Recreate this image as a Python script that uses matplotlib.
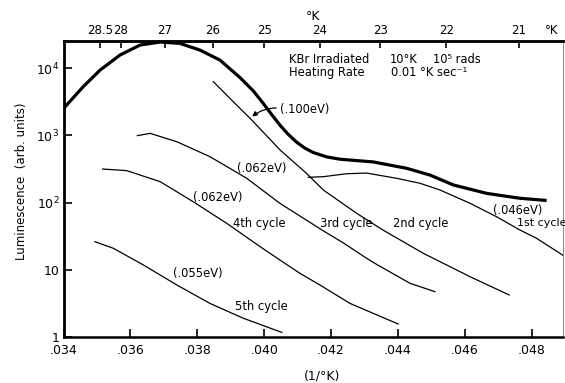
import matplotlib
matplotlib.use('Agg')
import matplotlib.pyplot as plt
from matplotlib.ticker import FixedLocator, NullLocator

plt.rcParams['font.family'] = ['DejaVu Sans']
plt.rcParams['mathtext.fontset'] = 'dejavusans'

# Curvas digitalizadas (x = 1/°K, y = luminescencia)
x_total = [0.0340, 0.03459, 0.03509, 0.03569, 0.03629, 0.03689, 0.03748, 0.03808,
           0.03868, 0.03928, 0.03968, 0.03997, 0.04024, 0.04048, 0.04071, 0.04097,
           0.04122, 0.04147, 0.04187, 0.04227, 0.04276, 0.04326, 0.04426, 0.04496,
           0.04566, 0.04666, 0.04765, 0.0484]
y_total = [2510, 5310, 9330, 15700, 22100, 24500, 23400, 18600,
           13200, 7240, 4570, 3010, 2000, 1410, 1050, 794,
           646, 556, 479, 442, 422, 403, 324, 257,
           183, 137, 116, 108]

x_c1 = [0.04132, 0.04177, 0.04247, 0.04307, 0.04396, 0.04466, 0.04526, 0.04616,
        0.04695, 0.04765, 0.04815, 0.0490]
y_c1 = [238, 243, 269, 275, 230, 194, 154, 97.7, 61.7, 39.1, 29.4, 15.7]

x_c2 = [0.03848, 0.03908, 0.03958, 0.04048, 0.04127, 0.04177, 0.04277, 0.04356,
        0.04476, 0.04616, 0.04733]
y_c2 = [6310, 3160, 1795, 605, 272, 154, 69.2, 38.9, 17.6, 7.89, 4.22]

x_c3 = [0.03621, 0.03659, 0.03739, 0.03838, 0.03948, 0.04047, 0.04177, 0.04237,
        0.04307, 0.04337, 0.04436, 0.04511]
y_c3 = [991, 1072, 805, 482, 230, 97.7, 38.0, 25.1, 14.8, 12.0, 6.31, 4.72]

x_c4 = [0.03517, 0.03589, 0.03689, 0.03788, 0.03888, 0.03988, 0.04047, 0.04107,
        0.04167, 0.04257, 0.04401]
y_c4 = [316, 299, 205, 103, 49.2, 22.1, 14.0, 8.87, 5.94, 3.16, 1.56]

x_c5 = [0.03494, 0.03549, 0.03639, 0.03739, 0.03838, 0.03938, 0.04053]
y_c5 = [26.2, 20.9, 11.8, 5.94, 3.16, 1.90, 1.17]

x_ticks = [0.034, 0.036, 0.038, 0.040, 0.042, 0.044, 0.046, 0.048]
x_ticklabels = ['.034', '.036', '.038', '.040', '.042', '.044', '.046', '.048']
temps = [28.5, 28, 27, 26, 25, 24, 23, 22, 21]
temp_labels = ['28.5', '28', '27', '26', '25', '24', '23', '22', '21']
y_ticks = [1, 10, 100, 1000, 10000]
y_ticklabels = ['1', '10', '$10^2$', '$10^3$', '$10^4$']

fig = plt.figure(figsize=(5.65, 3.83), dpi=100)
ax = fig.add_axes([0.1124, 0.1201, 0.8841, 0.7729])

ax.plot(x_total, y_total, color='black', lw=2.3, solid_joinstyle='round')
for xs, ys in [(x_c1, y_c1), (x_c2, y_c2), (x_c3, y_c3), (x_c4, y_c4), (x_c5, y_c5)]:
    ax.plot(xs, ys, color='black', lw=0.9)

ax.set_yscale('log')
ax.set_xlim(0.034, 0.04894)
ax.set_ylim(1, 25400)

ax.xaxis.set_major_locator(FixedLocator(x_ticks))
ax.set_xticklabels(x_ticklabels)
ax.xaxis.set_minor_locator(NullLocator())
ax.yaxis.set_major_locator(FixedLocator(y_ticks))
ax.set_yticklabels(y_ticklabels)
ax.yaxis.set_minor_locator(NullLocator())
ax.tick_params(axis='x', direction='in', length=6, width=1.2, labelsize=9, pad=5, top=False)
ax.tick_params(axis='y', direction='in', length=6, width=1.2, labelsize=9, pad=3)

ax.spines['left'].set_linewidth(2.0)
ax.spines['bottom'].set_linewidth(1.8)
ax.spines['top'].set_linewidth(1.8)
ax.spines['right'].set_linewidth(0.6)
ax.spines['right'].set_color('#777777')

# eixo de temperatura em cima
sec = ax.secondary_xaxis('top')
sec.set_xticks([1.0 / t for t in temps], temp_labels)
sec.xaxis.set_minor_locator(NullLocator())
sec.tick_params(direction='in', length=5, width=1.2, labelsize=8.5, pad=3)
sec.spines['top'].set_linewidth(1.8)
sec.set_xlabel('°K', fontsize=9, labelpad=3)
ax.text(0.0484, 1.012, '°K', transform=ax.get_xaxis_transform(), fontsize=8.5,
        va='bottom', ha='left')

fs = 8.3
ax.text(0.4514, 0.936, 'KBr Irradiated', transform=ax.transAxes, fontsize=fs, va='center')
ax.text(0.6537, 0.936, '10°K', transform=ax.transAxes, fontsize=fs, va='center')
ax.text(0.7397, 0.936, '10⁵ rads', transform=ax.transAxes, fontsize=fs, va='center')
ax.text(0.4514, 0.893, 'Heating Rate', transform=ax.transAxes, fontsize=fs, va='center')
ax.text(0.6557, 0.893, '0.01 °K sec⁻¹', transform=ax.transAxes, fontsize=fs, va='center')

ax.text(0.040474, 2470, '(.100eV)', fontsize=fs, va='center')
ax.annotate('', xy=(0.039578, 1795), xytext=(0.040444, 2560),
            arrowprops=dict(arrowstyle='-|>', color='black', lw=0.9,
                            mutation_scale=7, connectionstyle='arc3,rad=0.2'))
ax.text(0.039188, 327, '(.062eV)', fontsize=fs, va='center')
ax.text(0.037882, 120, '(.062eV)', fontsize=fs, va='center')
ax.text(0.039078, 49.2, '4th cycle', fontsize=fs, va='center')
ax.text(0.037283, 8.87, '(.055eV)', fontsize=fs, va='center')
ax.text(0.039128, 2.82, '5th cycle', fontsize=fs, va='center')
ax.text(0.04167, 49.2, '3rd cycle', fontsize=fs, va='center')
ax.text(0.043862, 49.2, '2nd cycle', fontsize=fs, va='center')
ax.text(0.046853, 75.7, '(.046eV)', fontsize=fs, va='center')
ax.text(0.04756, 49.2, '1st cycle', fontsize=8, va='center', clip_on=False)

fig.text(22 / 565, 1 - 181 / 383, 'Luminescence  (arb. units)', rotation=90,
         fontsize=8.5, ha='center', va='center')
fig.text(322 / 565, 1 - 376 / 383, '(1/°K)', fontsize=9, ha='center', va='center')

plt.savefig('out.png', dpi=100)
